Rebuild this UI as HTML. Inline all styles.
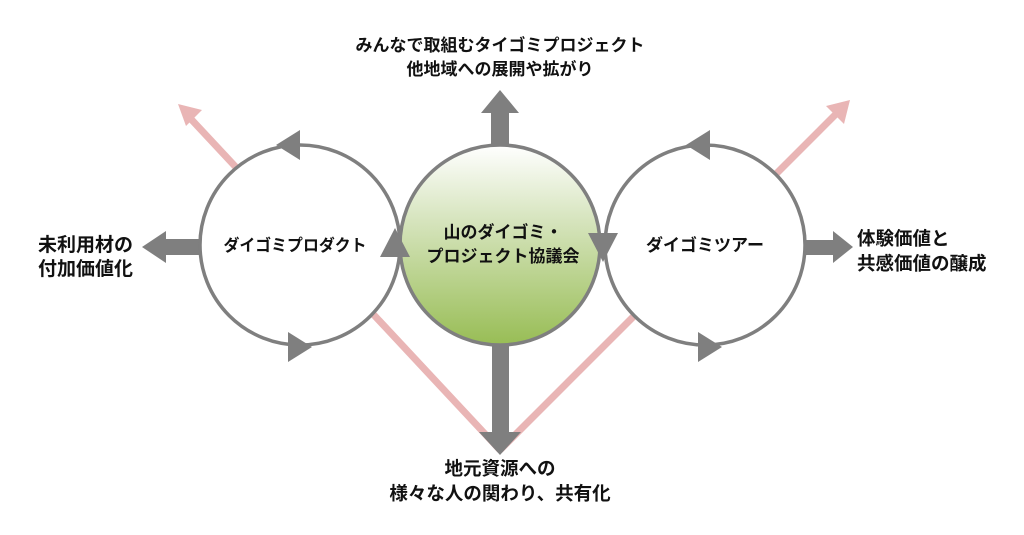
<!DOCTYPE html>
<html><head><meta charset="utf-8"><style>
html,body{margin:0;padding:0;background:#fff;}
svg{display:block;}
text{font-family:"Liberation Sans","Noto Sans CJK JP",sans-serif;font-weight:bold;fill:#111;}
</style></head><body>
<svg width="1024" height="535" viewBox="0 0 1024 535" xmlns="http://www.w3.org/2000/svg">
<defs>
<linearGradient id="g" x1="0" y1="0" x2="0" y2="1">
<stop offset="0" stop-color="#ffffff"/>
<stop offset="0.35" stop-color="#d9e6c2"/>
<stop offset="1" stop-color="#98bd55"/>
</linearGradient>
</defs>
<g stroke="#e9b5b5" stroke-width="7" fill="none">
<line x1="190" y1="118" x2="500" y2="450"/>
<line x1="500" y1="450" x2="838" y2="112"/>
</g>
<polygon points="178,104 202,110 186,126" fill="#e9b5b5"/>
<polygon points="850,100 826,106 844,124" fill="#e9b5b5"/>
<g fill="#7f7f7f">
<polygon points="491,145 491,113 481,113 500,90 519,113 509,113 509,145"/>
<polygon points="492,345 492,432 479,432 500,455 521,432 509,432 509,345"/>
<polygon points="202,239 166,239 166,231 142,247 166,263 166,255 202,255"/>
<polygon points="803,240 833,240 833,231 853,247 833,263 833,255 803,255"/>
</g>
<circle cx="300" cy="245" r="100" fill="#fff" stroke="#7f7f7f" stroke-width="3.5"/>
<circle cx="705" cy="245" r="100" fill="#fff" stroke="#7f7f7f" stroke-width="3.5"/>
<circle cx="500" cy="245" r="100" fill="url(#g)" stroke="#7f7f7f" stroke-width="3.5"/>
<g fill="#7f7f7f">
<polygon points="276,145 300,130 300,160"/>
<polygon points="312,347 288,332 288,362"/>
<polygon points="395,228 380,257 410,257"/>
<polygon points="686,145 710,130 710,160"/>
<polygon points="722,347 698,332 698,362"/>
<polygon points="603,262 588,233 618,233"/>
</g>
<g font-size="17">
<text x="500" y="51" text-anchor="middle">みんなで取組むタイゴミプロジェクト</text>
<text x="500" y="75" text-anchor="middle">他地域への展開や拡がり</text>
<text x="295" y="251" text-anchor="middle" font-size="16.5" textLength="143" lengthAdjust="spacingAndGlyphs">ダイゴミプロダクト</text>
<text x="503" y="238" text-anchor="middle">山のダイゴミ・</text>
<text x="503" y="262" text-anchor="middle">プロジェクト協議会</text>
<text x="705" y="251" text-anchor="middle">ダイゴミツアー</text>
<text x="38" y="251" font-size="19">未利用材の</text>
<text x="38" y="275" font-size="19">付加価値化</text>
<text x="857" y="245" font-size="18.5">体験価値と</text>
<text x="857" y="270" font-size="18.5">共感価値の醸成</text>
<text x="500" y="475" text-anchor="middle" font-size="18.5">地元資源への</text>
<text x="500" y="500" text-anchor="middle" font-size="18.5">様々な人の関わり、共有化</text>
</g>
</svg>
</body></html>
